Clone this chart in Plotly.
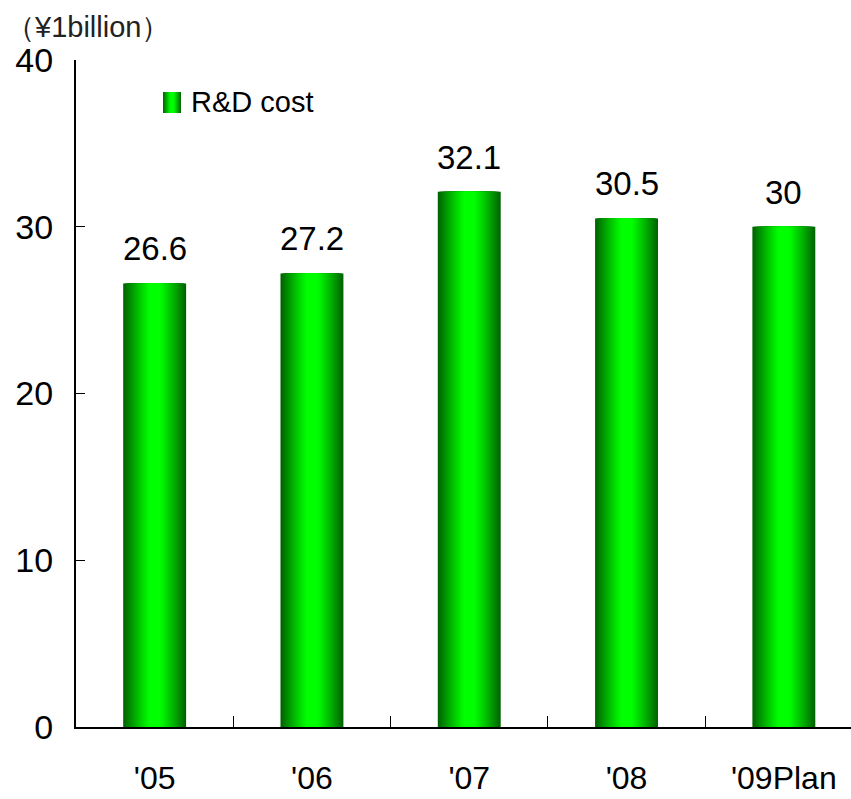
import plotly.graph_objects as go

# R&D spending by fiscal year (¥ billion)
categories = ["'05", "'06", "'07", "'08", "'09Plan"]
rd_cost = [26.6, 27.2, 32.1, 30.5, 30]
value_labels = ["26.6", "27.2", "32.1", "30.5", "30"]
y_ticks = [0, 10, 20, 30, 40]

FONT = "Liberation Sans Narrow, Arial Narrow, Liberation Sans, Arial, sans-serif"
BAR_WIDTH = 0.40
N_LAYERS = 24


def shade(d):
    """Green shade for normalized distance d from bar center (0=center, 1=edge)."""
    if d <= 0.18:
        g = 255
    else:
        t = (d - 0.18) / 0.82
        g = 255 - (255 - 100) * (t ** 1.1)
    return f"rgb(0,{int(round(g))},0)"


fig = go.Figure()

# Cylindrical look: overlay progressively narrower, brighter bars
for i in range(N_LAYERS):
    d = 1 - i / N_LAYERS
    fig.add_trace(go.Bar(
        x=categories,
        y=rd_cost,
        width=BAR_WIDTH * d,
        marker=dict(color=shade(d), line=dict(width=0)),
        showlegend=False,
        hoverinfo="skip" if i else "x+y",
        name="R&D cost",
    ))

# Value labels above bars
for c, v, t in zip(categories, rd_cost, value_labels):
    fig.add_annotation(
        x=c, y=v, text=t, showarrow=False,
        xanchor="center", yanchor="bottom", yshift=14,
        font=dict(family=FONT, size=33, color="black"),
    )

# Legend glyph with the same gradient
gx0, gx1 = 0.1123, 0.1355
gy0, gy1 = 0.9205, 0.952
gc = (gx0 + gx1) / 2
gh = (gx1 - gx0) / 2
for i in range(N_LAYERS):
    d = 1 - i / N_LAYERS
    fig.add_shape(
        type="rect", xref="paper", yref="paper",
        x0=gc - gh * d, x1=gc + gh * d, y0=gy0, y1=gy1,
        fillcolor=shade(d), line=dict(width=0), layer="above",
    )
fig.add_annotation(
    xref="paper", yref="paper", x=0.146, y=0.937,
    text="R&D cost", showarrow=False, xanchor="left", yanchor="middle",
    font=dict(family=FONT, size=29, color="black"),
)

# Unit label
fig.add_annotation(
    xref="paper", yref="paper", x=-0.0935, y=1.05,
    text="（¥1billion）", showarrow=False, xanchor="left", yanchor="middle",
    font=dict(family=FONT, size=29, color="#222222"),
)

# Baseline shadow
fig.add_shape(
    type="line", xref="paper", yref="y", x0=0, x1=1,
    ysizemode="pixel", yanchor=0, y0=-2, y1=-2,
    line=dict(color="#b0b0b0", width=2), layer="below",
)

fig.update_layout(
    width=851, height=799,
    margin=dict(l=76, r=0, t=60, b=72),
    paper_bgcolor="white", plot_bgcolor="white",
    barmode="overlay",
    showlegend=False,
    font=dict(family=FONT, color="black"),
)
fig.update_xaxes(
    range=[-0.5, 4.427], automargin=False,
    showline=True, linecolor="black", linewidth=2,
    ticks="inside", tickson="boundaries", ticklen=11, tickcolor="black", tickwidth=1,
    tickfont=dict(family=FONT, size=32, color="black"),
    ticklabelstandoff=22,
    showgrid=False, zeroline=False,
)
fig.update_yaxes(
    range=[0, 40], tickvals=y_ticks, automargin=False,
    showline=True, linecolor="black", linewidth=2,
    ticks="inside", ticklen=9, tickcolor="black", tickwidth=1,
    tickfont=dict(family=FONT, size=34, color="black"),
    ticklabelstandoff=14,
    showgrid=False, zeroline=False,
)

fig.write_html("out.html")
